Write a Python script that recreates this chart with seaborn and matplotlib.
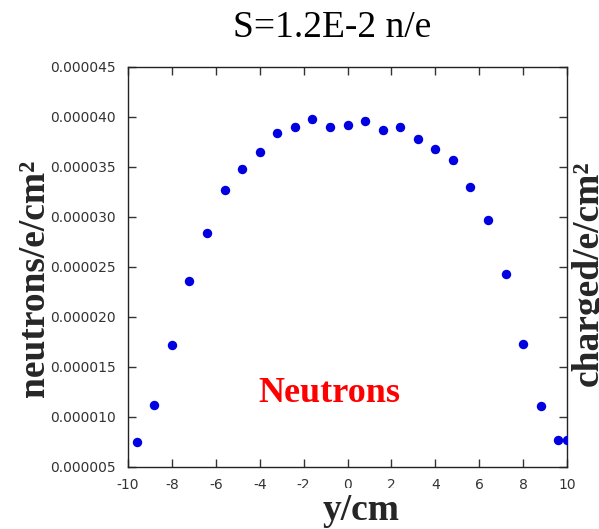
import numpy as np
import pandas as pd
import matplotlib
matplotlib.use("Agg")
import matplotlib.pyplot as plt
from matplotlib.patches import Rectangle
import seaborn as sns

# ---- data ----
y_cm = [-9.6, -8.8, -8.0, -7.2, -6.4, -5.6, -4.8, -4.0, -3.2, -2.4, -1.6, -0.8, 0.0,
        0.8, 1.6, 2.4, 3.2, 4.0, 4.8, 5.6, 6.4, 7.2, 8.0, 8.8, 9.6, 10.0]
flux = [7.47, 11.17, 17.14, 23.6, 28.37, 32.67, 34.8, 36.47, 38.4, 39.0, 39.74, 39.0, 39.14,
        39.6, 38.64, 39.0, 37.8, 36.74, 35.64, 32.94, 29.67, 24.3, 17.24, 11.04, 7.7, 7.7]
flux_err = [0.15, 0.15, 0.2, 0.2, 0.2, 0.2, 0.25, 0.25, 0.25, 0.25, 0.25, 0.25, 0.25,
            0.25, 0.25, 0.25, 0.25, 0.25, 0.25, 0.2, 0.2, 0.2, 0.2, 0.15, 0.15, 0.15]
scale = 1e-6
xticks = [-10, -8, -6, -4, -2, 0, 2, 4, 6, 8, 10]
yticks = [5e-6, 10e-6, 15e-6, 20e-6, 25e-6, 30e-6, 35e-6, 40e-6, 45e-6]

df = pd.DataFrame({"y": y_cm, "flux": np.array(flux) * scale,
                   "err": np.array(flux_err) * scale})

sns.set_style("ticks")
plt.rcParams['font.family'] = ['DejaVu Sans']

fig = plt.figure(figsize=(5.99, 5.29), dpi=100)
ax = fig.add_axes([128/599, 1 - 466.7/529, 439/599, 400/529])

ax.errorbar(df["y"], df["flux"], yerr=df["err"], fmt="none", ecolor="#0000e0",
            elinewidth=1.2, capsize=2, zorder=2)
sns.scatterplot(data=df, x="y", y="flux", ax=ax, color="#0000e0", marker="o",
                s=46, edgecolor="#0000e0", linewidth=0, zorder=3, legend=False)

ax.set_xlim(-10, 10)
ax.set_ylim(5e-6, 45e-6)
ax.set_xticks(xticks)
ax.set_xticklabels([str(t) for t in xticks])
ax.set_yticks(yticks)
ax.set_yticklabels([f"{v:.6f}" for v in yticks])
ax.set_xlabel("")
ax.set_ylabel("")
ax.tick_params(direction="in", length=6, width=1, colors="#333333", labelsize=10,
               top=True, right=True)
ax.tick_params(axis="y", pad=9)
ax.tick_params(axis="x", pad=8)
for sp in ax.spines.values():
    sp.set_visible(True)
    sp.set_color("#222222")
    sp.set_linewidth(1)

# white backing of the pasted x-axis label (partly hides the -2, 0, 2 labels)
fig.add_artist(Rectangle((296/599, 0), 122/599, (529 - 487.5)/529,
                         transform=fig.transFigure, facecolor="white",
                         edgecolor="none", zorder=5))

serif = ["Liberation Serif", "DejaVu Serif"]
fig.text(332/599, 1 - 37/529, "S=1.2E-2 n/e", family=serif, fontsize=27,
         ha="center", va="baseline", color="black")
fig.text(35/599, 1 - 278/529, "neutrons/e/cm²", family=serif, fontsize=27,
         fontweight="bold", rotation=90, ha="center", va="center")
fig.text(361/599, 1 - 520/529, "y/cm", family=serif, fontsize=27,
         fontweight="bold", ha="center", va="baseline", zorder=6)
fig.text(588/599, 1 - 273/529, "charged/e/cm²", family=serif, fontsize=27,
         fontweight="bold", rotation=90, ha="center", va="center")
fig.text(329/599, 1 - 393/529, "Neutrons", family=serif, fontsize=26,
         fontweight="bold", color="#ff0000", ha="center", va="center")

fig.savefig("out.png", dpi=100)
